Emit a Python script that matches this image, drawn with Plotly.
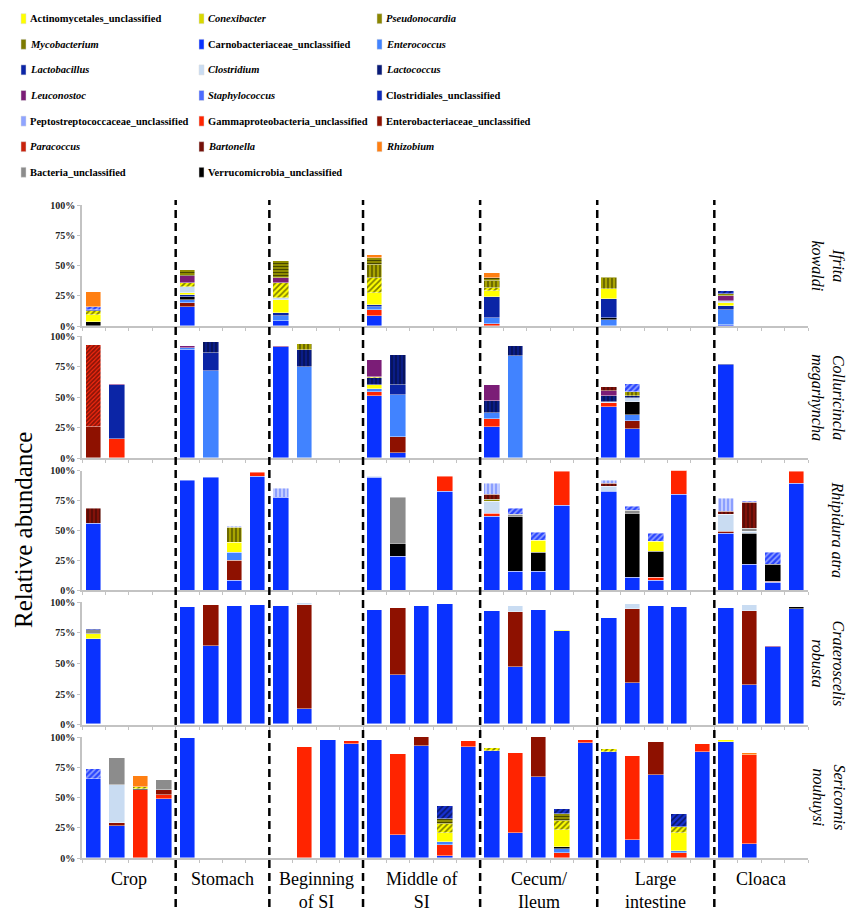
import plotly.graph_objects as go

# ---------------- data ----------------
SLOTS = list(range(31))
GROUPS = ["Crop", "Stomach", "Beginning<br>of SI", "Middle of<br>SI",
          "Cecum/<br>Ileum", "Large<br>intestine", "Cloaca"]
GROUP_SLOTS = [[0, 1, 2, 3], [4, 5, 6, 7], [8, 9, 10, 11], [12, 13, 14, 15, 16],
               [17, 18, 19, 20, 21], [22, 23, 24, 25, 26], [27, 28, 29, 30]]
SPECIES = ["Ifrita<br>kowaldi", "Colluricincla<br>megarhyncha", "Rhipidura atra",
           "Crateroscelis<br>robusta", "Sericornis<br>nouhuysi"]

TAXA = [("ACT", "Actinomycetales_unclassified", False), ("CON", "Conexibacter", True),
        ("PSE", "Pseudonocardia", True), ("MYC", "Mycobacterium", True),
        ("CAR", "Carnobacteriaceae_unclassified", False), ("ENC", "Enterococcus", True),
        ("LCB", "Lactobacillus", True), ("CLO", "Clostridium", True),
        ("LCC", "Lactococcus", True), ("LEU", "Leuconostoc", True),
        ("STA", "Staphylococcus", True), ("CLD", "Clostridiales_unclassified", False),
        ("PEP", "Peptostreptococcaceae_unclassified", False),
        ("GAM", "Gammaproteobacteria_unclassified", False),
        ("ENT", "Enterobacteriaceae_unclassified", False), ("PAR", "Paracoccus", True),
        ("BAR", "Bartonella", True), ("RHI", "Rhizobium", True),
        ("BAC", "Bacteria_unclassified", False), ("VER", "Verrucomicrobia_unclassified", False)]

STACK_ORDER = ["CAR", "GAM", "ENT", "ENC", "VER", "LCB", "ACT", "CLO", "BAC", "PAR",
               "LCC", "CON", "LEU", "PSE", "MYC", "CLD", "BAR", "PEP", "STA", "RHI"]

# relative abundance (%) per bar slot, per taxon
IFRITA = {
    0: dict(VER=3, ACT=6.5, CON=2.5, CLD=1, STA=3, RHI=12),
    4: dict(CAR=15.5, ENT=3.5, ENC=2.8, VER=2.5, LCB=1, ACT=2, CLO=4.7, CON=3.5, LEU=6, MYC=4.5),
    8: dict(CAR=4.4, ENC=4, LCB=2, ACT=11.4, CLO=1.2, CON=12.5, LEU=4.5, MYC=13.5),
    12: dict(CAR=8.5, GAM=5, ENC=2, LCB=1.5, ACT=10.3, CON=12.7, PSE=10.7, MYC=5.3, RHI=3),
    17: dict(GAM=1.7, ENC=4.9, LCB=17.1, ACT=4.9, CON=2.4, PSE=6.1, MYC=2.7, RHI=3.8),
    22: dict(ENC=5, VER=1.6, LCB=15.7, ACT=8.3, PSE=9.1, MYC=1),
    27: dict(CAR=1, ENC=12, LCB=3.3, ACT=2.3, CLO=2, LEU=4, MYC=2, CLD=2),
}
COLLURICINCLA = {
    0: dict(ENT=25.2, PAR=67.8),
    1: dict(GAM=15, LCB=44.7, LEU=0.8),
    4: dict(CAR=88.2, ENC=1.8, LEU=2),
    5: dict(ENC=71.2, LCB=15.1, LCC=8.7),
    8: dict(CAR=91.2, LEU=0.8),
    9: dict(ENC=74.5, LCC=14, PSE=5.2),
    12: dict(CAR=50.7, GAM=3.5, ENC=2.5, ACT=2.7, LCC=5.8, CON=1.4, LEU=13.9),
    13: dict(CAR=4, ENT=13, ENC=34.5, LCB=8.2, LCC=24.3),
    17: dict(CAR=25, GAM=6.5, ENC=5.5, LCC=9.6, LEU=13.4),
    18: dict(ENC=83.5, LCC=8.2),
    22: dict(CAR=41.6, GAM=3.4, CLO=1, LCC=5, LEU=3.8, BAR=3.2, STA=0.5),
    23: dict(CAR=23.3, ENT=6.7, ENC=5.5, VER=10.5, CLO=3, LCC=2, PSE=3, STA=6.5),
    27: dict(CAR=76, LCB=0.8),
}
RHIPIDURA = {
    0: dict(CAR=55.4, BAR=12.8),
    4: dict(CAR=91.9),
    5: dict(CAR=93.9),
    6: dict(CAR=8.4, ENT=16.4, ENC=7, ACT=8.3, PSE=12, PEP=1.4),
    7: dict(CAR=95.3, GAM=2.7),
    8: dict(CAR=77.2, PEP=7.5),
    12: dict(CAR=93.9, CLO=1.1),
    13: dict(CAR=27.8, VER=11.2, BAC=38.8),
    15: dict(CAR=82.5, GAM=12.8),
    17: dict(CAR=61.3, GAM=2.5, ENC=1.4, CLO=9.2, MYC=1.4, BAR=4.1, PEP=9),
    18: dict(CAR=15.9, VER=45.4, BAC=1.9, STA=4.8),
    19: dict(CAR=15.3, VER=15.9, ACT=10.6, STA=6.1),
    20: dict(CAR=70.7, GAM=28.8),
    22: dict(CAR=82.5, CLO=4.5, BAR=1.9, PEP=3),
    23: dict(CAR=10.3, VER=53.8, BAC=2.8, STA=2.7),
    24: dict(CAR=8.4, GAM=1.9, VER=22.3, ACT=8.4, STA=6.1),
    25: dict(CAR=79.9, GAM=20),
    27: dict(CAR=47.3, ENT=1.7, CLO=14.2, BAR=2.3, PEP=10.8),
    28: dict(CAR=21.4, VER=25.9, CLO=2, BAC=2, BAR=21.7, STA=1.4),
    29: dict(CAR=6.1, ENT=1.4, VER=13.9, STA=9.8),
    30: dict(CAR=89.1, GAM=9.8),
}
CRATEROSCELIS = {
    0: dict(CAR=70, ACT=3.6, BAC=3.3, CLD=1.3),
    4: dict(CAR=95.6),
    5: dict(CAR=64.3, ENT=33.5),
    6: dict(CAR=96.4),
    7: dict(CAR=97.5),
    8: dict(CAR=97),
    9: dict(CAR=12.6, ENT=85.2, CLO=1.4),
    12: dict(CAR=93.2),
    13: dict(CAR=40.4, ENT=54.7),
    14: dict(CAR=97),
    15: dict(CAR=98.4),
    17: dict(CAR=92.6),
    18: dict(CAR=47.1, ENT=45, CLO=4.3),
    19: dict(CAR=93.4),
    20: dict(CAR=76, ACT=1.1),
    22: dict(CAR=86.9),
    23: dict(CAR=33.5, ENT=60.8, CLO=4.1),
    24: dict(CAR=96.4),
    25: dict(CAR=95.6),
    27: dict(CAR=94.8),
    28: dict(CAR=32.2, ENT=60.1, CLO=5.2),
    29: dict(CAR=63.5, LEU=0.8),
    30: dict(CAR=94.3, VER=1.9),
}
SERICORNIS = {
    0: dict(CAR=65.5, STA=8),
    1: dict(CAR=26.2, ENT=2.7, CLO=31.1, BAC=22.6),
    2: dict(GAM=55.9, VER=1.4, CON=1.1, RHI=9.1),
    3: dict(CAR=49, GAM=2.8, ENT=4.7, BAC=8.2),
    4: dict(CAR=99.5),
    9: dict(GAM=91.5),
    10: dict(CAR=97.5),
    11: dict(CAR=94.2, GAM=2.7),
    12: dict(CAR=97.3),
    13: dict(CAR=18.7, GAM=67.5),
    14: dict(CAR=92.8, ENT=6.9),
    15: dict(CAR=1.4, GAM=9.6, ENC=2, ACT=7.7, CON=7.7, MYC=4.1, CLD=10.7),
    16: dict(CAR=91.5, GAM=4.9),
    17: dict(CAR=88.7, CON=2.2),
    18: dict(CAR=20.7, GAM=66.1),
    19: dict(CAR=66.9, ENT=32.8),
    20: dict(GAM=4.1, ENC=3.6, VER=1.4, ACT=14.3, CON=6.9, MYC=6.1, CLD=4.1),
    21: dict(CAR=95, GAM=2.3),
    22: dict(CAR=87.6, CON=2.4),
    23: dict(CAR=15.1, GAM=69.4),
    24: dict(CAR=68.3, ENT=27.3),
    25: dict(GAM=4.1, ENC=1.9, ACT=14.7, CON=4.6, CLD=11.1),
    26: dict(CAR=87.6, GAM=6.9),
    27: dict(CAR=95.6, ACT=1.7),
    28: dict(CAR=11.8, GAM=73.6, RHI=1.4),
}
ROWS = [IFRITA, COLLURICINCLA, RHIPIDURA, CRATEROSCELIS, SERICORNIS]

Y_TICKS = [0, 25, 50, 75, 100]
Y_TICKTEXT = ["0%", "25%", "50%", "75%", "100%"]

# ---------------- styles ----------------
STYLE = {
    "ACT": dict(bg="#ffff00"),
    "CON": dict(bg="#ffff00", shape="/", fg="#000000", size=4, sol=0.45),
    "PSE": dict(bg="#a8a400", shape="|", fg="#000000", size=4, sol=0.35),
    "MYC": dict(bg="#8f8c00", shape="-", fg="#000000", size=3, sol=0.35),
    "CAR": dict(bg="#0a32ff"),
    "ENC": dict(bg="#4183ff"),
    "LCB": dict(bg="#0b25a6"),
    "CLO": dict(bg="#c9dcf2"),
    "LCC": dict(bg="#0a1c86", shape="|", fg="#000000", size=4, sol=0.3),
    "LEU": dict(bg="#7b1d77"),
    "STA": dict(bg="#2a46ff", shape="/", fg="#ffffff", size=4, sol=0.4),
    "CLD": dict(bg="#1630d0", shape="/", fg="#000000", size=4, sol=0.4),
    "PEP": dict(bg="#c2ccff", shape="|", fg="#3a5cff", size=4, sol=0.4),
    "GAM": dict(bg="#ff2400"),
    "ENT": dict(bg="#8e1100"),
    "PAR": dict(bg="#ff2a10", shape="/", fg="#1a0000", size=3, sol=0.65),
    "BAR": dict(bg="#82120a", shape="|", fg="#000000", size=4, sol=0.3),
    "RHI": dict(bg="#ff7f12"),
    "BAC": dict(bg="#8c8c8c"),
    "VER": dict(bg="#000000"),
}
SWATCH = {"CON": "#d8d800", "PSE": "#8a8600", "MYC": "#7c7a00", "LCC": "#081a78",
          "STA": "#4d6bff", "CLD": "#0f2ab8", "PEP": "#8fa4ff", "PAR": "#c8220c",
          "BAR": "#741008"}

SERIF = "Liberation Serif, Times New Roman, serif"

# ---------------- geometry ----------------
W, H = 856, 912
L, R, T, B = 74, 56, 197, 62
PW, PH = W - L - R, H - T - B
ROW_PX = [(197, 318), (328.3, 450), (462.7, 582.3), (594.3, 716.7), (729, 850)]


def px2x(px):
    return (px - L) / PW


def px2y(py):
    return (H - B - py) / PH


fig = go.Figure()
names = {k: n for k, n, _ in TAXA}

for r, row in enumerate(ROWS):
    xa = "x" if r == 0 else f"x{r + 1}"
    ya = "y" if r == 0 else f"y{r + 1}"
    for key in STACK_ORDER:
        vals = [row.get(s, {}).get(key) for s in SLOTS]
        if all(v is None for v in vals):
            continue
        st = STYLE[key]
        marker = dict(color=st["bg"], line=dict(color="rgba(255,255,255,0.55)", width=0.8))
        if "shape" in st:
            marker["pattern"] = dict(shape=st["shape"], fgcolor=st["fg"], bgcolor=st["bg"],
                                     size=st["size"], solidity=st["sol"], fillmode="overlay")
        fig.add_trace(go.Bar(x=SLOTS, y=vals, name=names[key], marker=marker, width=0.66,
                             xaxis=xa, yaxis=ya, showlegend=False,
                             hovertemplate=names[key] + ": %{y}%<extra></extra>"))

layout = dict(width=W, height=H, margin=dict(l=L, r=R, t=T, b=B), barmode="stack",
              paper_bgcolor="white", plot_bgcolor="white", showlegend=False,
              font=dict(family=SERIF, color="black"), bargap=0)
for r in range(5):
    sx = "" if r == 0 else str(r + 1)
    top, bot = ROW_PX[r]
    layout["xaxis" + sx] = dict(domain=[0, 1], range=[-0.5, 30.5], anchor="y" + sx,
                                showline=True, linecolor="#c3c3c3", linewidth=2,
                                ticks="outside", ticklen=3, tickcolor="#c3c3c3", tickwidth=1,
                                tickvals=[k - 0.5 for k in range(32)], showticklabels=False,
                                showgrid=False, zeroline=False, fixedrange=True)
    layout["yaxis" + sx] = dict(domain=[px2y(bot), px2y(top)], range=[0, 100], anchor="x" + sx,
                                showline=True, linecolor="#c3c3c3", linewidth=1.5,
                                ticks="outside", ticklen=3, tickcolor="#c3c3c3",
                                tickvals=Y_TICKS, ticktext=Y_TICKTEXT,
                                tickfont=dict(family=SERIF, size=10, weight="bold", color="#222"),
                                showgrid=False, zeroline=False, fixedrange=True)
fig.update_layout(**layout)

# dashed separators between gut regions
for g in range(len(GROUP_SLOTS) - 1):
    xb = (GROUP_SLOTS[g][-1] + GROUP_SLOTS[g + 1][0]) / 2
    fig.add_shape(type="line", xref="x", yref="paper", x0=xb, x1=xb,
                  y0=px2y(912), y1=px2y(192),
                  line=dict(color="black", width=2.5, dash="8px,5px"))

ann = []
# gut region labels
for g, lab in enumerate(GROUPS):
    xc = (GROUP_SLOTS[g][0] + GROUP_SLOTS[g][-1]) / 2
    ann.append(dict(x=xc, xref="x", y=px2y(859), yref="paper", text=lab, showarrow=False,
                    xanchor="center", yanchor="top", font=dict(family=SERIF, size=18)))
# species labels
for r, sp in enumerate(SPECIES):
    top, bot = ROW_PX[r]
    xpx = 820 if "<br>" in sp else 829
    ann.append(dict(x=px2x(xpx), xref="paper", y=px2y((top + bot) / 2), yref="paper",
                    text="<i>" + sp + "</i>", showarrow=False, textangle=90,
                    xanchor="center", yanchor="middle", font=dict(family=SERIF, size=16)))
# y title
ann.append(dict(x=px2x(15), xref="paper", y=px2y(522), yref="paper", text="Relative abundance",
                showarrow=False, textangle=-90, xanchor="center", yanchor="middle",
                font=dict(family=SERIF, size=25)))

# legend (3 columns, row-major)
COL_SW = [13, 191, 369]
for i, (key, name, ital) in enumerate(TAXA):
    rr, cc = divmod(i, 3)
    yc = 10.7 + 25.6 * rr
    x0 = COL_SW[cc]
    fig.add_shape(type="rect", xref="paper", yref="paper",
                  x0=px2x(x0), x1=px2x(x0 + 5), y0=px2y(yc - 5), y1=px2y(yc + 5),
                  fillcolor=SWATCH.get(key, STYLE[key]["bg"]),
                  line=dict(color="#dddddd", width=0.5))
    txt = f"<b><i>{name}</i></b>" if ital else f"<b>{name}</b>"
    ann.append(dict(x=px2x(x0 + 7), xref="paper", y=px2y(yc), yref="paper", text=txt,
                    showarrow=False, xanchor="left", yanchor="middle",
                    font=dict(family=SERIF, size=10.5, color="black")))

fig.update_layout(annotations=ann)
fig.write_html("out.html")
